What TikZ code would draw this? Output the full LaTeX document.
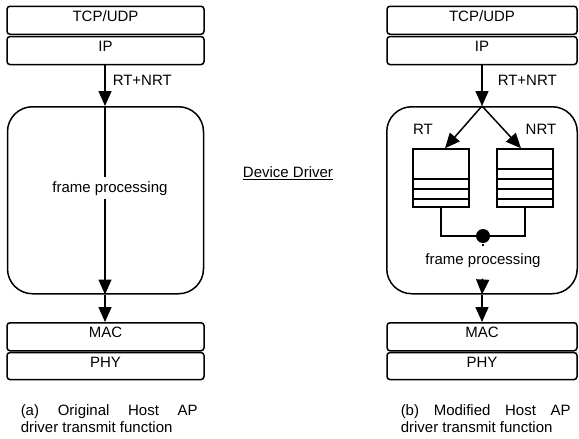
\documentclass[tikz,border=0pt]{standalone}
\usepackage{fontspec}
\setmainfont{Liberation Sans}
\usetikzlibrary{arrows.meta}
\begin{document}
\begin{tikzpicture}[x=1pt,y=-1pt,line width=1.5pt,
  every node/.style={font=\fontsize{15}{17}\selectfont},
  layer/.style={draw,rounded corners=3pt,inner xsep=0pt,inner ysep=0pt,text height=15pt,text depth=13pt,anchor=north},
  bigbox/.style={draw,rounded corners=25pt,minimum height=187pt,anchor=north,inner sep=0pt},
  fptext/.style={inner xsep=0pt,text height=11pt,text depth=3pt},
  queue/.style={draw,minimum width=56pt,minimum height=58pt,inner sep=0pt},
  flow/.style={-{Triangle[length=15pt,width=13pt]}},
  lbl/.style={inner sep=0pt}
]
\useasboundingbox (0,0) rectangle (579,439);

% ---- left: original
\node[layer,minimum width=197pt] (tcpL) at (105.5,5.5) {TCP/UDP};
\node[layer,minimum width=197pt] (ipL) at (105.5,35.8) {IP};
\node[bigbox,minimum width=196pt] (boxL) at (105.5,106) {};
\node[layer,minimum width=197pt] (macL) at (105.5,322) {MAC};
\node[layer,minimum width=197pt,text depth=12pt] (phyL) at (105.5,351.8) {PHY};
\coordinate (axL) at (105,0);
\node[lbl,anchor=west] (rtnrtL) at (112,80) {RT+NRT};
\node[fptext,inner ysep=3.5pt] (fpL) at (110,188) {frame processing};
\draw[flow] (axL |- ipL.south) -- (axL |- boxL.north);
\draw (axL |- boxL.north) -- (axL |- fpL.north);
\draw[flow] (axL |- fpL.south) -- (axL |- boxL.south);
\draw[flow] (axL |- boxL.south) -- (axL |- macL.north);
\node[lbl,anchor=base west] (capLa) at (20,415) {\makebox[177pt][s]{(a) Original Host AP}};
\node[lbl,anchor=base west] (capLb) at (20,432) {driver transmit function};

% ---- middle
\node[lbl] (dd) at (288,173) {\underline{Device Driver}};

% ---- right: modified
\node[layer,minimum width=190pt] (tcpR) at (482,5.5) {TCP/UDP};
\node[layer,minimum width=190pt] (ipR) at (482,35.8) {IP};
\node[bigbox,minimum width=190.5pt] (boxR) at (482,106) {};
\node[layer,minimum width=190pt] (macR) at (482,322) {MAC};
\node[layer,minimum width=190pt,text depth=12pt] (phyR) at (482,351.8) {PHY};
\node[lbl,anchor=west] (rtnrtR) at (497,80) {RT+NRT};
\node[lbl] (rt) at (423,129) {RT};
\node[lbl] (nrt) at (541,129) {NRT};
\node[queue] (qL) at (441,178) {};
\node[queue] (qR) at (525,178) {};
\foreach \s in {9,19,29}{
  \draw ([yshift=\s pt]qL.south west) -- ([yshift=\s pt]qL.south east);
}
\foreach \s in {9,19,29,39}{
  \draw ([yshift=\s pt]qR.south west) -- ([yshift=\s pt]qR.south east);
}
\node[circle,fill,inner sep=0pt,minimum size=14pt] (dot) at (483,236) {};
\node[fptext,inner ysep=6pt] (fpR) at (483,260) {frame processing};
\draw[flow] (ipR.south) -- (boxR.north);
\draw[flow] (boxR.north) -- ([xshift=4pt]qL.north);
\draw[flow] (boxR.north) -- ([xshift=-4pt]qR.north);
\draw (qL.south) |- (dot.center) -| (qR.south);
\draw (dot) -- (fpR.north);
\draw[flow,shorten <=5pt] (fpR.south) -- (boxR.south);
\draw[flow] (boxR.south) -- (macR.north);
\node[lbl,anchor=base west] (capRa) at (400,415) {\makebox[170pt][s]{(b) Modified Host AP}};
\node[lbl,anchor=base west] (capRb) at (400,432) {driver transmit function};
\end{tikzpicture}
\end{document}
